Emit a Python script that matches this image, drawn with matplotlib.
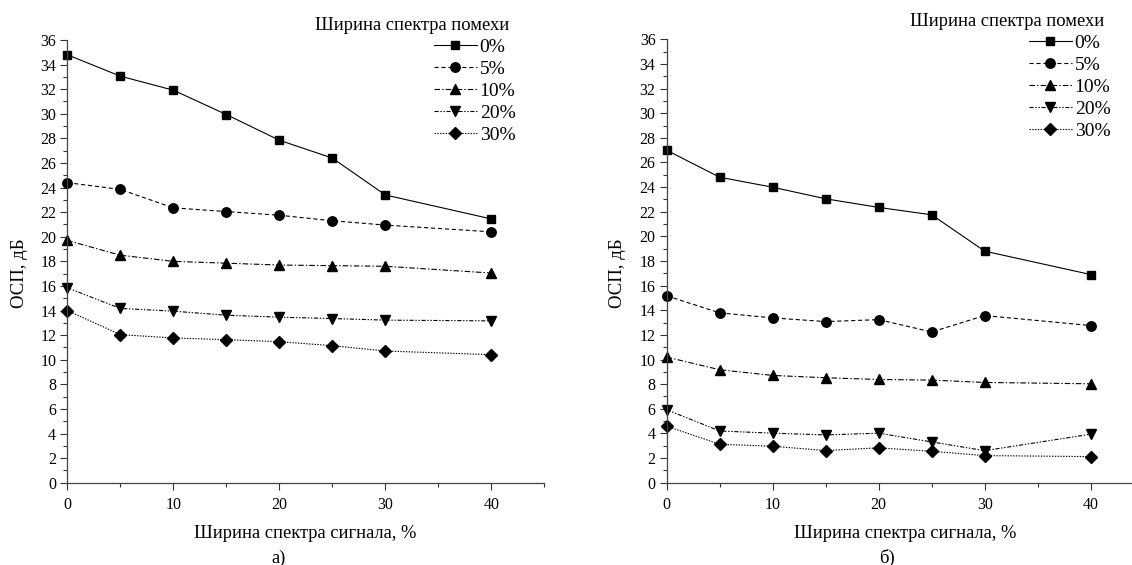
import numpy as np
import matplotlib
matplotlib.use('Agg')
from matplotlib import pyplot as plt
from matplotlib.ticker import MultipleLocator

##############################################################################
# DATA
##############################################################################

# Signal spectrum width, %
signal_width = [0, 5, 10, 15, 20, 25, 30, 40]

# Interference spectrum width (legend labels)
noise_labels = ['0%', '5%', '10%', '20%', '30%']

# Panel a), dB
a_0 = [34.8, 33.06, 31.92, 29.94, 27.85, 26.4, 23.4, 21.45]
a_5 = [24.4, 23.85, 22.35, 22.05, 21.75, 21.3, 20.95, 20.4]
a_10 = [19.7, 18.5, 18.0, 17.85, 17.7, 17.65, 17.6, 17.05]
a_20 = [15.85, 14.17, 13.95, 13.62, 13.46, 13.35, 13.22, 13.16]
a_30 = [14.0, 12.04, 11.77, 11.63, 11.47, 11.14, 10.71, 10.41]

# Panel б), dB
b_0 = [26.99, 24.8, 23.99, 23.05, 22.35, 21.75, 18.8, 16.9]
b_5 = [15.17, 13.79, 13.38, 13.08, 13.24, 12.24, 13.57, 12.76]
b_10 = [10.2, 9.17, 8.71, 8.52, 8.38, 8.33, 8.14, 8.03]
b_20 = [5.92, 4.2, 4.02, 3.88, 4.02, 3.31, 2.6, 3.94]
b_30 = [4.59, 3.12, 2.96, 2.61, 2.83, 2.55, 2.2, 2.12]

##############################################################################
# STYLE
##############################################################################

plt.rcParams['font.family'] = ['Liberation Serif', 'DejaVu Serif']
plt.rcParams['lines.scale_dashes'] = False

W, H = 1132, 565

markers = ['s', 'o', '^', 'v', 'D']
msizes = [6.2, 6.8, 7, 7, 6]
styles = ['-', (0, (3, 2)), (0, (4, 1.5, 1, 1.5)),
          (0, (3, 1.2, 1, 1.2, 1, 1.2)), (0, (1, 1))]

fig = plt.figure(figsize=(W / 100, H / 100), dpi=100)
# left panel: x 0..45 -> 67.3..544 px, y 0..36 -> 482.7..40 px
ax1 = fig.add_axes([67.3 / W, (H - 482.7) / H, 477 / W, 442.7 / H])
# right panel: same scale, runs off the right edge of the image
ax2 = fig.add_axes([666.7 / W, (H - 482.7) / H, 477 / W, 443.4 / H])


def fx(px):
    return px / W


def fy(py):
    return 1 - py / H


def draw_panel(ax, series, ylabel_xy, title_xy, legend_xy, xlabel_xy, caption, caption_xy):
    for ys, lab, mk, ms, ls in zip(series, noise_labels, markers, msizes, styles):
        ax.plot(signal_width, ys, color='black', lw=0.8, linestyle=ls,
                marker=mk, markersize=ms, label=lab, clip_on=False)
    ax.set_xlim(0, 45)
    ax.set_ylim(0, 36)
    ax.xaxis.set_major_locator(MultipleLocator(10))
    ax.xaxis.set_minor_locator(MultipleLocator(5))
    ax.yaxis.set_major_locator(MultipleLocator(2))
    ax.yaxis.set_minor_locator(MultipleLocator(1))
    ax.tick_params(which='both', direction='out', labelsize=11.5, width=0.8,
                   color='#333333')
    ax.tick_params(which='major', length=5)
    ax.tick_params(which='minor', length=2.6)
    ax.tick_params(axis='x', pad=5.5)
    ax.tick_params(axis='y', pad=3)
    for side in ['top', 'right']:
        ax.spines[side].set_visible(False)
    for side in ['left', 'bottom']:
        ax.spines[side].set_linewidth(0.9)
        ax.spines[side].set_color('#444444')

    fig.text(fx(ylabel_xy[0]), fy(ylabel_xy[1]), 'ОСП, дБ', fontsize=13.5,
             rotation=90, ha='center', va='center')
    fig.text(fx(xlabel_xy[0]), fy(xlabel_xy[1]), 'Ширина спектра сигнала, %',
             fontsize=13.3, ha='center', va='center')
    fig.text(fx(caption_xy[0]), fy(caption_xy[1]), caption,
             fontsize=13.3, ha='center', va='center')
    fig.text(fx(title_xy[0]), fy(title_xy[1]), 'Ширина спектра помехи',
             fontsize=13.3, ha='center', va='center')
    ax.legend(loc='upper left', bbox_to_anchor=(fx(legend_xy[0]), fy(legend_xy[1])),
              bbox_transform=fig.transFigure, frameon=False,
              fontsize=14, handlelength=2.2, handletextpad=0.15,
              labelspacing=0.23, borderpad=0, borderaxespad=0)


draw_panel(ax1, [a_0, a_5, a_10, a_20, a_30],
           (20, 273), (412.5, 25), (434, 38), (305, 533), 'а)', (279, 558))
draw_panel(ax2, [b_0, b_5, b_10, b_20, b_30],
           (618, 273), (1007.5, 22), (1029, 34), (905, 533), 'б)', (887, 558))

fig.savefig('out.png', dpi=100)
